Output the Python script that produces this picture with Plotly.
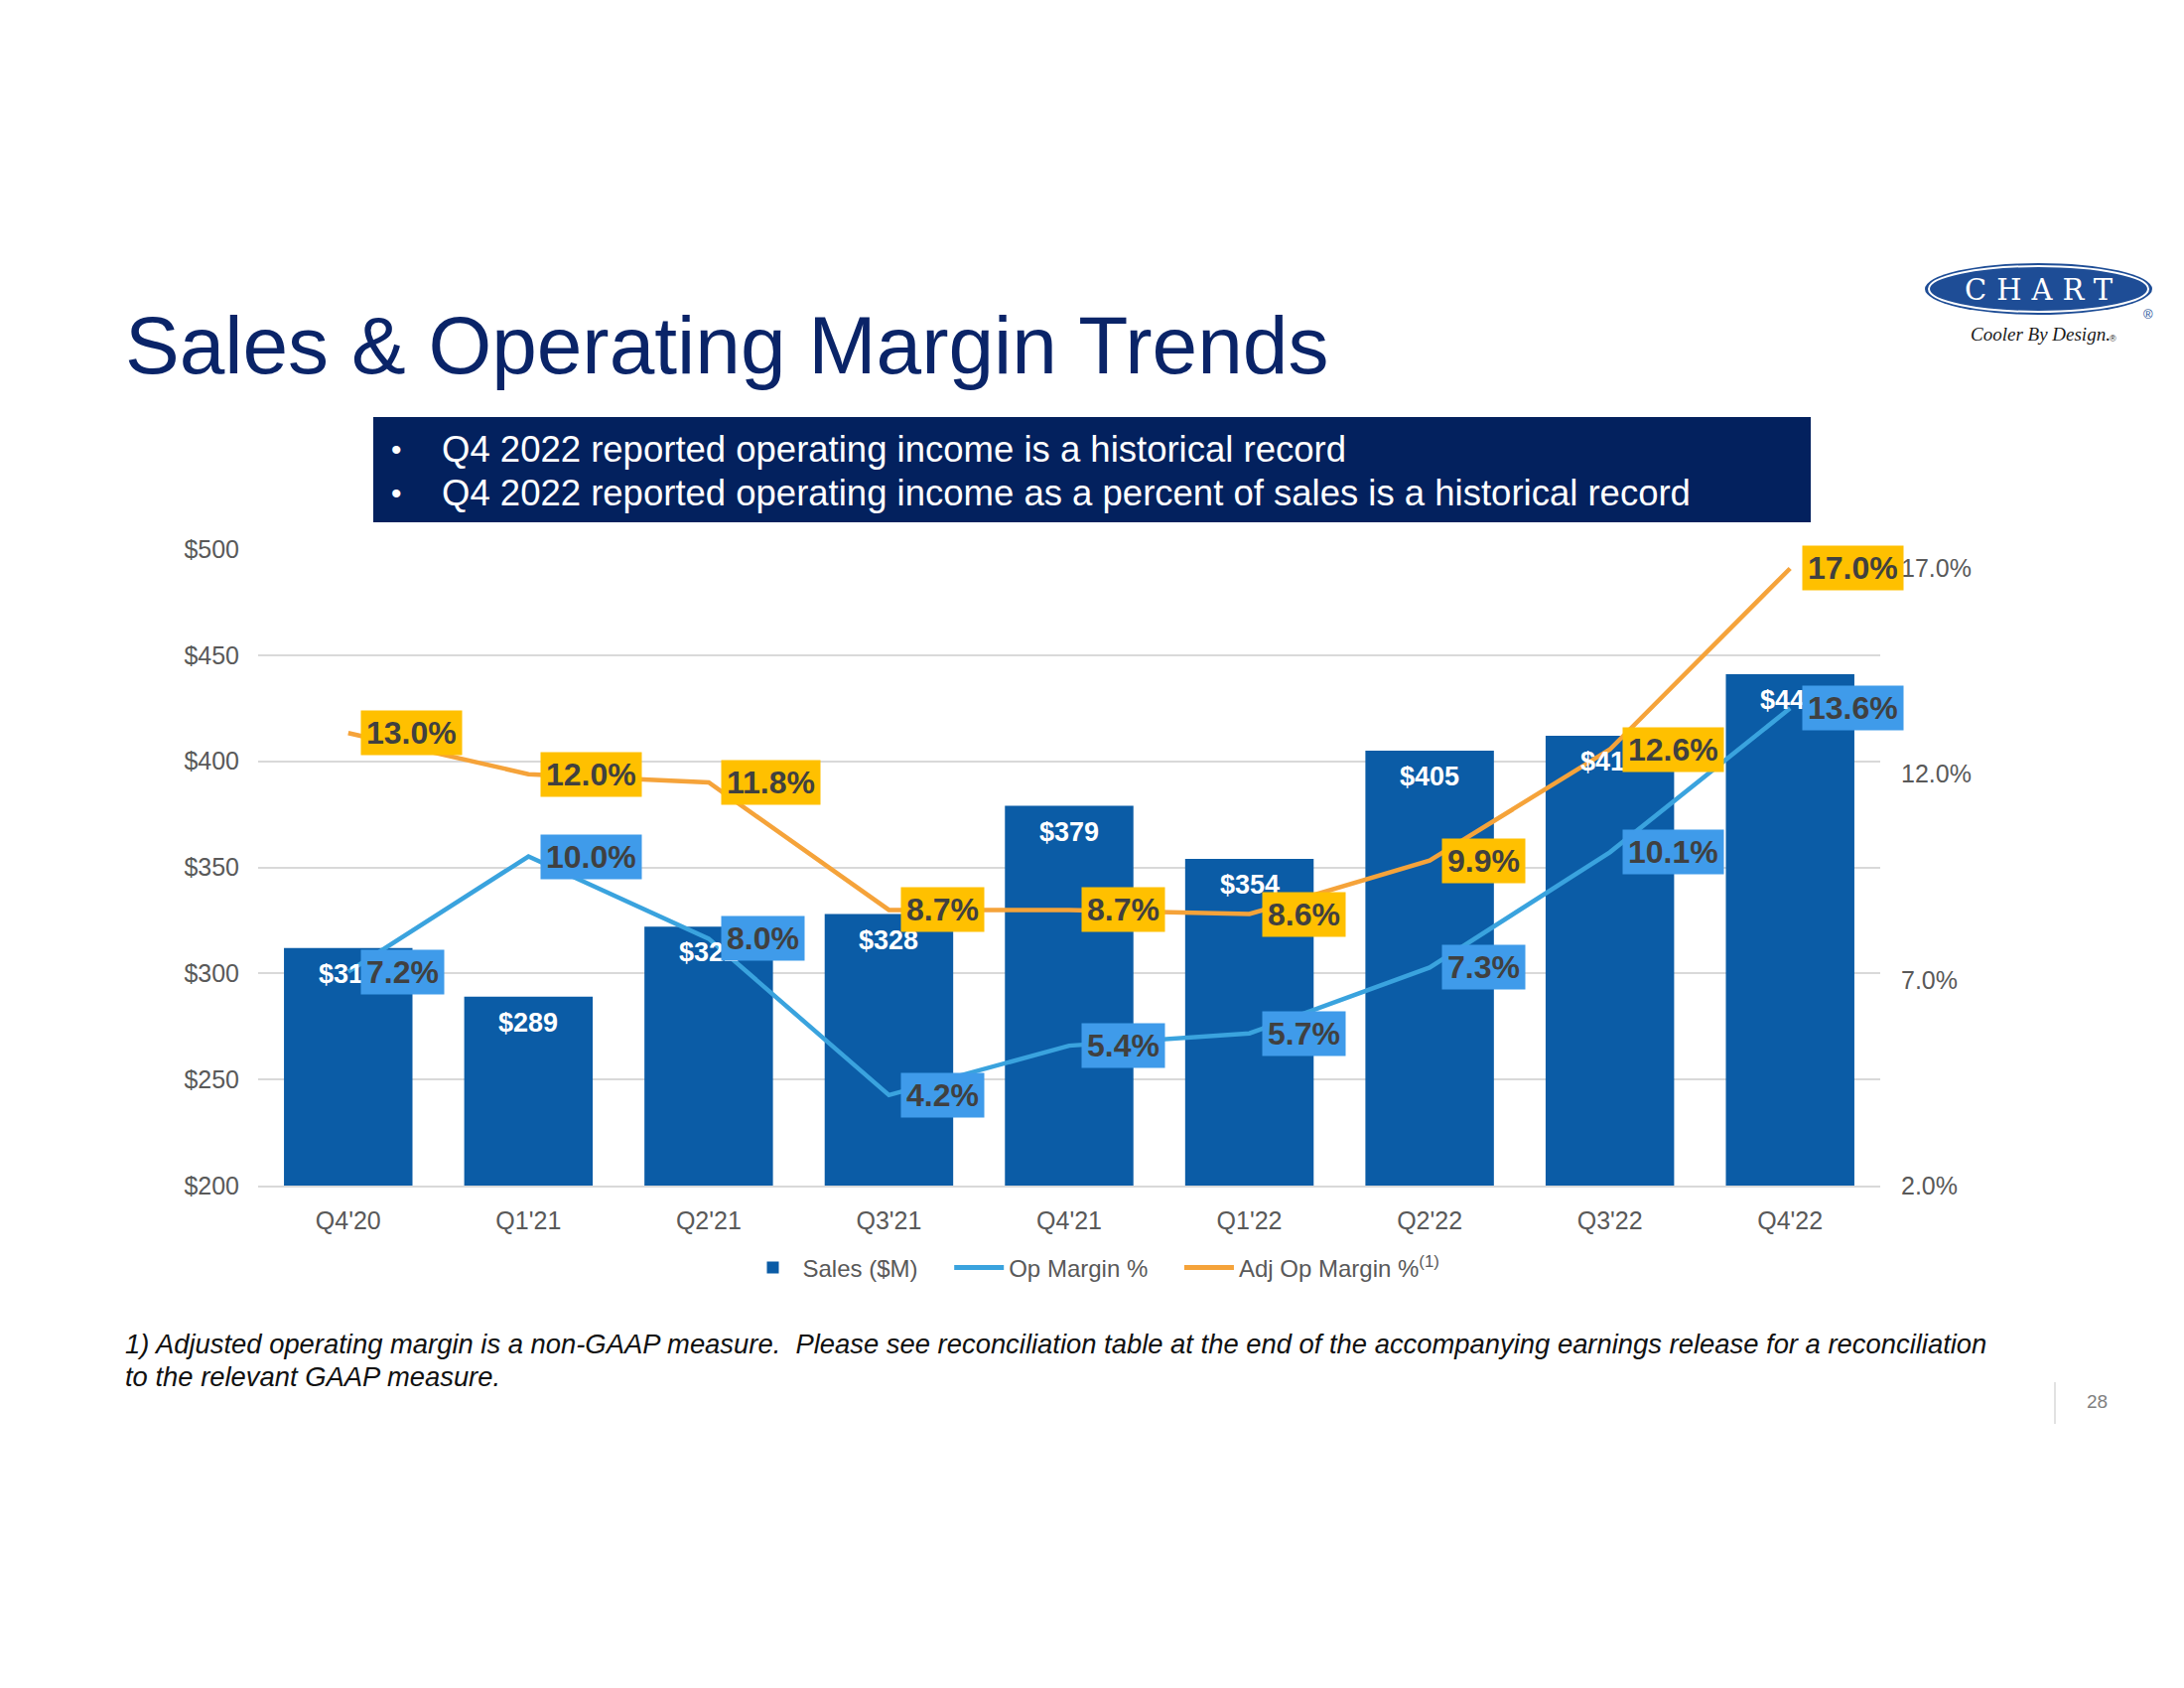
import plotly.graph_objects as go

quarters = ["Q4'20", "Q1'21", "Q2'21", "Q3'21", "Q4'21", "Q1'22", "Q2'22", "Q3'22", "Q4'22"]
sales = [312, 289, 322, 328, 379, 354, 405, 412, 441]
op_margin = [7.2, 10.0, 8.0, 4.2, 5.4, 5.7, 7.3, 10.1, 13.6]
adj_op_margin = [13.0, 12.0, 11.8, 8.7, 8.7, 8.6, 9.9, 12.6, 17.0]

W, H = 2200, 1700
L, R, T, B = 260, 1894, 553, 1194


def px(x):
    return (x - L) / (R - L)


def py(y):
    return (B - y) / (B - T)


BAR = "#0B5CA6"
BLUE = "#3AA3DE"
ORANGE = "#F5A33A"
BLUEBOX = "#3F9BEA"
YELBOX = "#FFC000"
GRAY = "#595959"
FONT = "Liberation Sans, Arial, sans-serif"
PAD = "&nbsp;" * 4

fig = go.Figure()
fig.add_trace(go.Bar(x=quarters, y=sales, name="Sales ($M)" + PAD, marker=dict(color=BAR, line=dict(width=0)),
                     yaxis="y"))
fig.add_trace(go.Scatter(x=quarters, y=op_margin, name="Op Margin %" + PAD, mode="lines",
                         line=dict(color=BLUE, width=4.5), yaxis="y2"))
fig.add_trace(go.Scatter(x=quarters, y=adj_op_margin, name="Adj Op Margin %<sup>(1)</sup>", mode="lines",
                         line=dict(color=ORANGE, width=4.5), yaxis="y2"))

ann = []
# bar labels
for q, s in zip(quarters, sales):
    ann.append(dict(x=q, y=s, xref="x", yref="y", text="<b>$%d</b>" % s, showarrow=False,
                    yanchor="middle", xanchor="center", yshift=-26,
                    font=dict(family=FONT, size=27, color="white")))
# margin labels
for q, v in zip(quarters, op_margin):
    ann.append(dict(x=q, y=v, xref="x", yref="y2", text="<b>%.1f%%</b>" % v, showarrow=False,
                    xanchor="left", yanchor="middle", xshift=12, bgcolor=BLUEBOX, borderpad=5, height=34,
                    font=dict(family=FONT, size=32, color="#404040")))
for q, v in zip(quarters, adj_op_margin):
    ann.append(dict(x=q, y=v, xref="x", yref="y2", text="<b>%.1f%%</b>" % v, showarrow=False,
                    xanchor="left", yanchor="middle", xshift=12, bgcolor=YELBOX, borderpad=5, height=34,
                    font=dict(family=FONT, size=32, color="#404040")))

# title
ann.append(dict(x=px(124), y=py(347), xref="paper", yref="paper", text="Sales & Operating Margin Trends",
                showarrow=False, xanchor="left", yanchor="middle",
                font=dict(family=FONT, size=82, color="#0A2468")))
# bullets
for yy, t in [(452, "Q4 2022 reported operating income is a historical record"),
              (497, "Q4 2022 reported operating income as a percent of sales is a historical record")]:
    ann.append(dict(x=px(392), y=py(yy), xref="paper", yref="paper", text="•", showarrow=False,
                    xanchor="left", yanchor="middle", font=dict(family=FONT, size=30, color="white")))
    ann.append(dict(x=px(443), y=py(yy), xref="paper", yref="paper", text=t, showarrow=False,
                    xanchor="left", yanchor="middle", font=dict(family=FONT, size=36.5, color="white")))
# footnote
ann.append(dict(x=px(124), y=py(1353), xref="paper", yref="paper",
                text="<i>1) Adjusted operating margin is a non-GAAP measure. &nbsp;Please see reconciliation table at the end of the accompanying earnings release for a reconciliation</i>",
                showarrow=False, xanchor="left", yanchor="middle", font=dict(family=FONT, size=27.4, color="#111111")))
ann.append(dict(x=px(124), y=py(1386), xref="paper", yref="paper",
                text="<i>to the relevant GAAP measure.</i>",
                showarrow=False, xanchor="left", yanchor="middle", font=dict(family=FONT, size=27.4, color="#111111")))
# page number
ann.append(dict(x=px(2112), y=py(1411), xref="paper", yref="paper", text="28", showarrow=False,
                xanchor="center", yanchor="middle", font=dict(family=FONT, size=19, color="#7F7F7F")))
# logo texts
ann.append(dict(x=px(2053), y=py(292), xref="paper", yref="paper",
                text='<span style="letter-spacing:10px">CHART</span>', showarrow=False, xshift=5,
                xanchor="center", yanchor="middle",
                font=dict(family="DejaVu Serif, Liberation Serif, serif", size=29, color="white")))
ann.append(dict(x=px(2055), y=py(337), xref="paper", yref="paper", text="<i>Cooler By Design.</i>",
                showarrow=False, xanchor="center", yanchor="middle",
                font=dict(family="Liberation Serif, Times New Roman, serif", size=19, color="#1A1A1A")))
ann.append(dict(x=px(2164), y=py(316), xref="paper", yref="paper", text="®", showarrow=False,
                xanchor="center", yanchor="middle",
                font=dict(family="Liberation Sans, sans-serif", size=13, color="#1E4D96")))
ann.append(dict(x=px(2128), y=py(341), xref="paper", yref="paper", text="®", showarrow=False,
                xanchor="center", yanchor="middle",
                font=dict(family="Liberation Sans, sans-serif", size=9, color="#1A1A1A")))

shapes = [
    dict(type="rect", xref="paper", yref="paper", x0=px(376), x1=px(1824), y0=py(420), y1=py(526),
         fillcolor="#03215E", line=dict(width=0), layer="below"),
    dict(type="circle", xref="paper", yref="paper", x0=px(1939), x1=px(2168), y0=py(265), y1=py(317),
         fillcolor="#1E4D96", line=dict(width=0)),
    dict(type="circle", xref="paper", yref="paper", x0=px(1943), x1=px(2164), y0=py(268), y1=py(314),
         fillcolor="rgba(0,0,0,0)", line=dict(color="white", width=2)),
    dict(type="line", xref="paper", yref="paper", x0=px(2070), x1=px(2070), y0=py(1392), y1=py(1434),
         line=dict(color="#D9D9D9", width=1.5)),
]

fig.update_layout(
    width=W, height=H,
    margin=dict(l=L, r=W - R, t=T, b=H - B, pad=0),
    paper_bgcolor="white", plot_bgcolor="white",
    bargap=0.287,
    showlegend=True,
    legend=dict(orientation="h", x=px(1102), y=py(1277), xanchor="center", yanchor="middle",
                font=dict(family=FONT, size=24, color=GRAY), bgcolor="rgba(0,0,0,0)",
                itemsizing="constant", traceorder="normal", itemwidth=50),
    xaxis=dict(type="category", range=[-0.5, 8.5], showgrid=False, showline=True, linecolor="#D9D9D9",
               linewidth=1.5, ticks="", ticklabelstandoff=12,
               tickfont=dict(family=FONT, size=25, color=GRAY)),
    yaxis=dict(range=[200, 500], dtick=50, tick0=200, tickprefix="$", showgrid=True, gridcolor="#D9D9D9",
               gridwidth=1.5, zeroline=False, ticks="", ticklabelstandoff=18,
               tickfont=dict(family=FONT, size=25, color=GRAY)),
    yaxis2=dict(range=[2, 17.47], tickvals=[2, 7, 12, 17], ticktext=["2.0%", "7.0%", "12.0%", "17.0%"],
                overlaying="y", side="right", showgrid=False, zeroline=False, ticks="", ticklabelstandoff=20,
                tickfont=dict(family=FONT, size=25, color=GRAY)),
    annotations=ann,
    shapes=shapes,
)

fig.write_html("out.html")
